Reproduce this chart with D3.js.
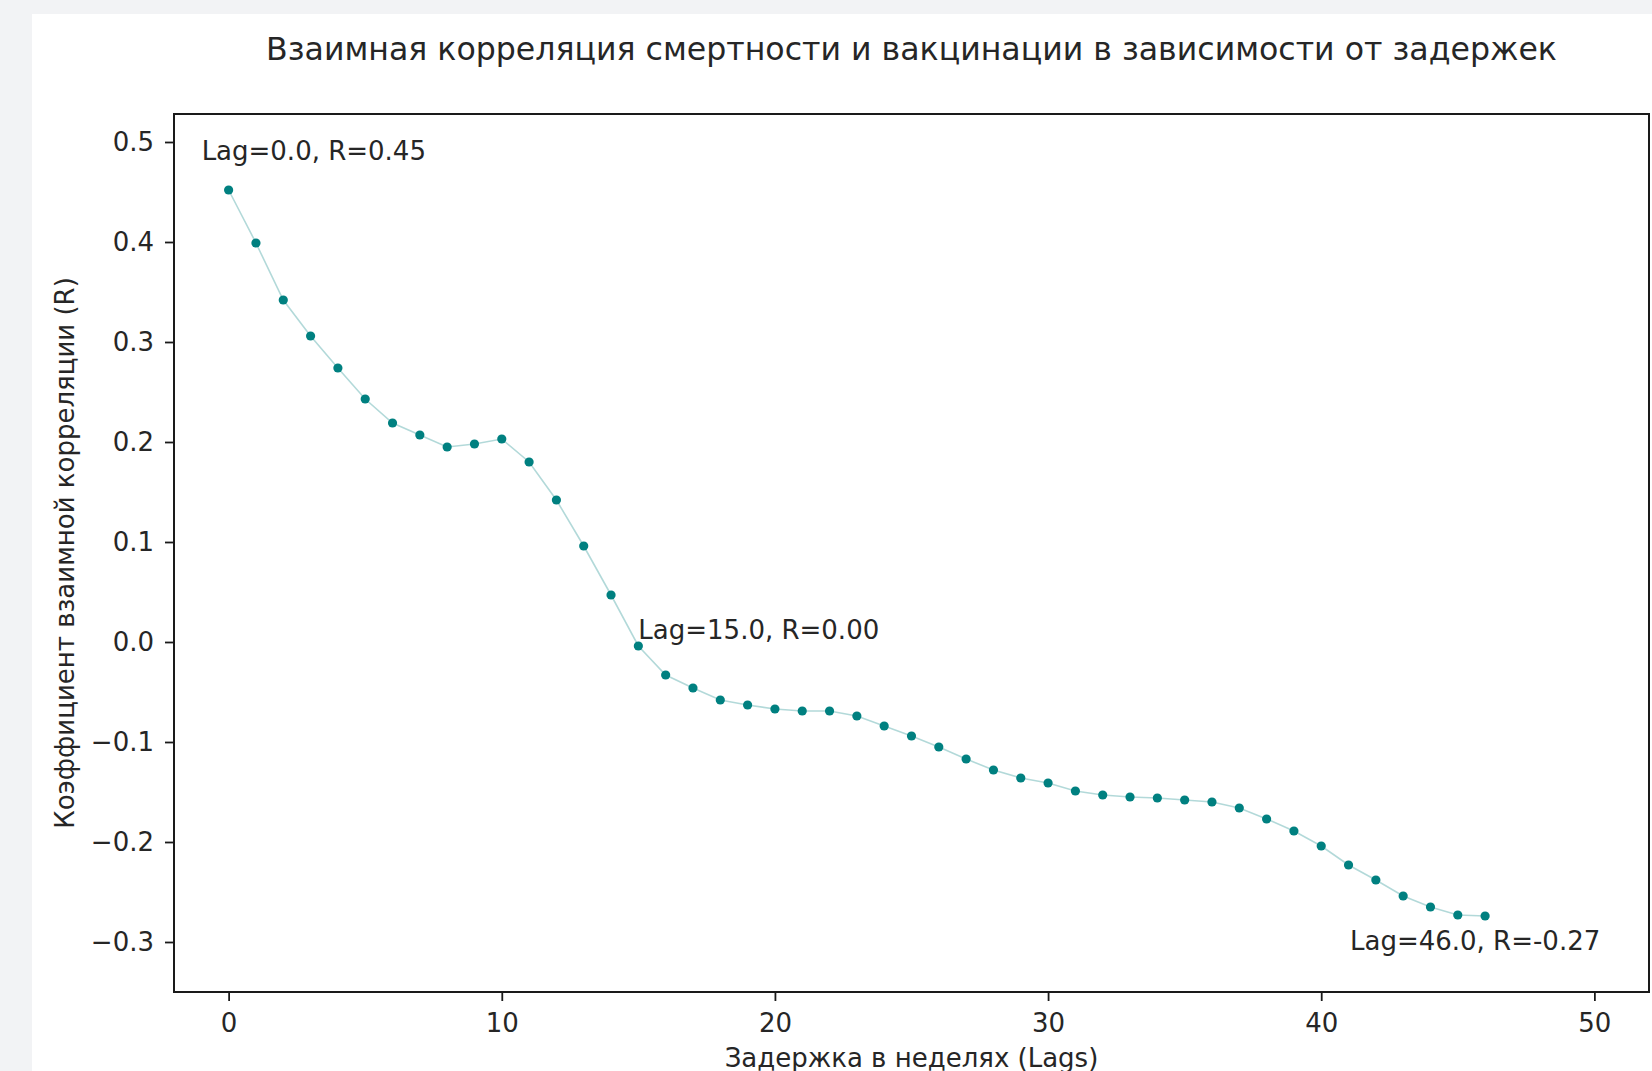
<!DOCTYPE html>
<html>
<head>
<meta charset="utf-8">
<script src="https://cdn.jsdelivr.net/npm/d3@7"></script>
<style>
  html, body { margin: 0; padding: 0; background: #f2f3f5; }
  svg { display: block; }
  text { font-family: "DejaVu Sans", sans-serif; fill: #262626; }
</style>
</head>
<body>
<script>
// Cross-correlation of mortality and vaccination by weekly lag
const lags = d3.range(0, 47);
const corr = [
  0.452, 0.399, 0.342, 0.306, 0.274, 0.243, 0.219, 0.207, 0.195, 0.198,
  0.203, 0.180, 0.142, 0.096, 0.047, -0.004, -0.033, -0.046, -0.058, -0.063,
  -0.067, -0.069, -0.069, -0.074, -0.084, -0.094, -0.105, -0.117, -0.128, -0.136,
  -0.141, -0.149, -0.153, -0.155, -0.156, -0.158, -0.160, -0.166, -0.177, -0.189,
  -0.204, -0.223, -0.238, -0.254, -0.265, -0.273, -0.274
];
const annotatedLags = [0, 15, 46];
const xTicks = [0, 10, 20, 30, 40, 50];
const yTicks = [-0.3, -0.2, -0.1, 0.0, 0.1, 0.2, 0.3, 0.4, 0.5];

const title = "Взаимная корреляция смертности и вакцинации в зависимости от задержек";
const xTitle = "Задержка в неделях (Lags)";
const yTitle = "Коэффициент взаимной корреляции (R)";

const W = 1652, H = 1071;
const plot = { left: 174, top: 114, right: 1649, bottom: 992 };
const FS = 26;

const svg = d3.select("body").append("svg").attr("width", W).attr("height", H);

// page card
svg.append("rect").attr("x", 0).attr("y", 0).attr("width", W).attr("height", H).attr("fill", "#f2f3f5");
svg.append("rect").attr("x", 32).attr("y", 14).attr("width", W - 32).attr("height", H - 14).attr("fill", "#ffffff");

const x = d3.scaleLinear().domain([-2, 52]).range([plot.left, plot.right]);
const y = d3.scaleLinear().domain([-0.35, 0.528]).range([plot.bottom, plot.top]);

const g = svg.append("g");

// connecting line
const line = d3.line().x((d, i) => x(lags[i])).y(d => y(d));
g.append("path")
  .datum(corr)
  .attr("d", line)
  .attr("fill", "none")
  .attr("stroke", "#008080")
  .attr("stroke-opacity", 0.3)
  .attr("stroke-width", 1.6);

// markers
g.selectAll("circle.pt")
  .data(corr)
  .join("circle")
  .attr("class", "pt")
  .attr("cx", (d, i) => x(lags[i]))
  .attr("cy", d => y(d))
  .attr("r", 4.6)
  .attr("fill", "#008080");

// annotations
const fmtR = d3.formatLocale({ decimal: ".", thousands: ",", grouping: [3], currency: ["", ""], minus: "-" }).format(".2f");
const annOffset = {
  0: { dx: -27, dy: -30, anchor: "start" },
  15: { dx: 0, dy: -7, anchor: "start" },
  46: { dx: -10, dy: 34, anchor: "middle" }
};
annotatedLags.forEach(l => {
  const r = corr[lags.indexOf(l)];
  const o = annOffset[l];
  g.append("text")
    .attr("x", x(l) + o.dx)
    .attr("y", y(r) + o.dy)
    .attr("text-anchor", o.anchor)
    .attr("font-size", FS)
    .text(`Lag=${l.toFixed(1)}, R=${fmtR(r)}`);
});

// axes
const xAxis = d3.axisBottom(x).tickValues(xTicks).tickFormat(d3.format("d")).tickSize(9).tickPadding(13);
const yAxis = d3.axisLeft(y).tickValues(yTicks).tickFormat(d3.format(".1f")).tickSize(9).tickPadding(11);

const gx = svg.append("g").attr("transform", `translate(0,${plot.bottom})`).call(xAxis);
const gy = svg.append("g").attr("transform", `translate(${plot.left},0)`).call(yAxis);
[gx, gy].forEach(a => {
  a.select(".domain").remove();
  a.selectAll(".tick line").attr("stroke", "#1a1a1a").attr("stroke-width", 1.8);
  a.selectAll(".tick text").attr("font-size", FS).attr("fill", "#262626")
    .style("font-family", '"DejaVu Sans", sans-serif');
});

// frame
svg.append("rect")
  .attr("x", plot.left).attr("y", plot.top)
  .attr("width", plot.right - plot.left).attr("height", plot.bottom - plot.top)
  .attr("fill", "none").attr("stroke", "#1a1a1a").attr("stroke-width", 2);

// titles
const cx = (plot.left + plot.right) / 2;
svg.append("text").attr("x", cx).attr("y", 60).attr("text-anchor", "middle")
  .attr("font-size", 31.6).text(title);
svg.append("text").attr("x", cx).attr("y", 1067).attr("text-anchor", "middle")
  .attr("font-size", FS).text(xTitle);
svg.append("text")
  .attr("transform", `translate(74,${(plot.top + plot.bottom) / 2}) rotate(-90)`)
  .attr("text-anchor", "middle")
  .attr("font-size", FS).text(yTitle);
</script>
</body>
</html>
